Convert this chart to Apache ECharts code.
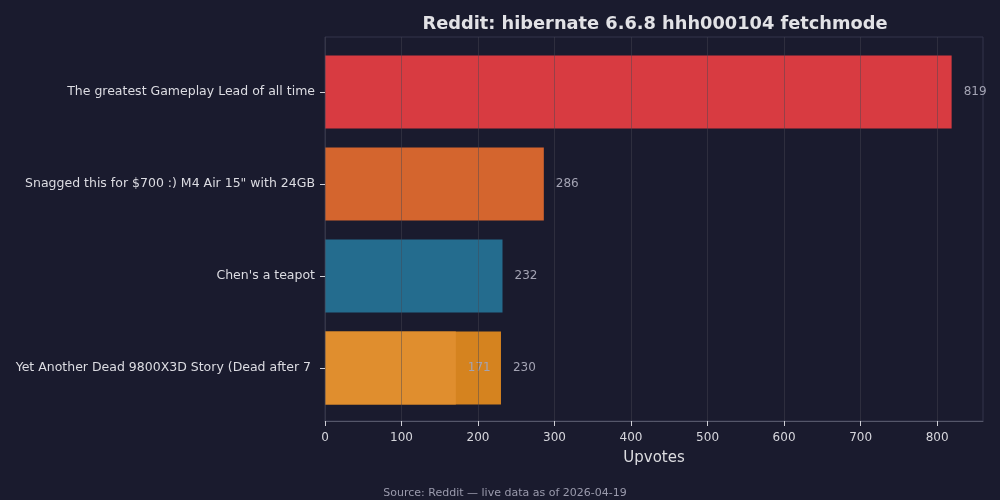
<!DOCTYPE html>
<html>
<head>
<meta charset="utf-8">
<script src="https://cdn.jsdelivr.net/npm/echarts@6/dist/echarts.min.js"></script>
<style>
  html, body { margin: 0; padding: 0; background: #1a1b2e; }
  #chart-container { width: 1000px; height: 500px; }
</style>
</head>
<body>
<div id="chart-container"></div>
<script>
// posts, top to bottom
var posts = [
  "The greatest Gameplay Lead of all time",
  "Snagged this for $700 :) M4 Air 15\" with 24GB",
  "Chen's a teapot",
  "Yet Another Dead 9800X3D Story (Dead after 7 "
];
var upvotes = [819, 286, 232, 230];
var overlay = [null, null, null, 171];
var barColors = ["#d83b41", "#d4652e", "#246c8e", "#d5831f"];
var xTicks = [0, 100, 200, 300, 400, 500, 600, 700, 800];

var dom = document.getElementById("chart-container");
var myChart = echarts.init(dom, null, { renderer: "canvas" });

var font = "DejaVu Sans";
var gridLine = "rgba(70,70,82,0.45)";

var option = {
  backgroundColor: "#1a1b2e",
  animation: false,
  textStyle: { fontFamily: font },
  title: [
    {
      text: "Reddit: hibernate 6.6.8 hhh000104 fetchmode",
      left: 650, top: 10, textAlign: "center",
      textStyle: { color: "#e2e2e6", fontSize: 17.8, fontWeight: "bold", fontFamily: font }
    },
    {
      text: "Source: Reddit \u2014 live data as of 2026-04-19",
      left: 500, top: 483, textAlign: "center",
      textStyle: { color: "#9a9aac", fontSize: 11, fontWeight: "normal", fontFamily: font }
    }
  ],
  grid: [
    // frame + x axis
    { left: 325, right: 17, top: 37, bottom: 79, show: true, borderColor: "#33354a", borderWidth: 1, backgroundColor: "transparent" },
    // bars
    { left: 325, right: 17, top: 46, bottom: 86 }
  ],
  xAxis: [
    {
      gridIndex: 0, type: "value", min: 0, max: 860, interval: 100, z: 3,
      name: "Upvotes", nameLocation: "middle", nameGap: 30,
      nameTextStyle: { color: "#dcdce0", fontSize: 15, fontFamily: font },
      axisLine: { show: true, lineStyle: { color: "#55576a" } },
      axisTick: { show: true, length: 5, customValues: xTicks, lineStyle: { color: "#cfcfd6" } },
      axisLabel: { color: "#d6d6dc", fontSize: 12, margin: 11, fontFamily: font, customValues: xTicks },
      splitLine: { show: true, lineStyle: { color: gridLine, width: 1 } }
    },
    { gridIndex: 1, type: "value", min: 0, max: 860, show: false }
  ],
  yAxis: [
    { gridIndex: 0, type: "value", show: false },
    {
      gridIndex: 1, type: "category", inverse: true, data: posts,
      axisLine: { show: false },
      axisTick: { show: true, alignWithLabel: true, length: 5, lineStyle: { color: "#cfcfd6" } },
      axisLabel: { color: "#dcdce2", fontSize: 12.5, margin: 10, fontFamily: font, padding: [3, 0, 0, 0] },
      splitLine: { show: false }
    }
  ],
  series: [
    {
      type: "bar", xAxisIndex: 1, yAxisIndex: 1, barWidth: 73,
      data: upvotes.map(function (v, i) {
        return { value: v, itemStyle: { color: barColors[i] } };
      }),
      label: { show: true, position: "right", distance: 12, color: "#a3a3b3", fontSize: 12, fontFamily: font }
    },
    {
      type: "bar", xAxisIndex: 1, yAxisIndex: 1, barWidth: 73, barGap: "-100%",
      data: overlay,
      itemStyle: { color: "#e08e2e" },
      label: { show: true, position: "right", distance: 12, color: "#a3a3b3", fontSize: 12, fontFamily: font }
    }
  ]
};

myChart.setOption(option);
window.addEventListener("resize", myChart.resize);
</script>
</body>
</html>
